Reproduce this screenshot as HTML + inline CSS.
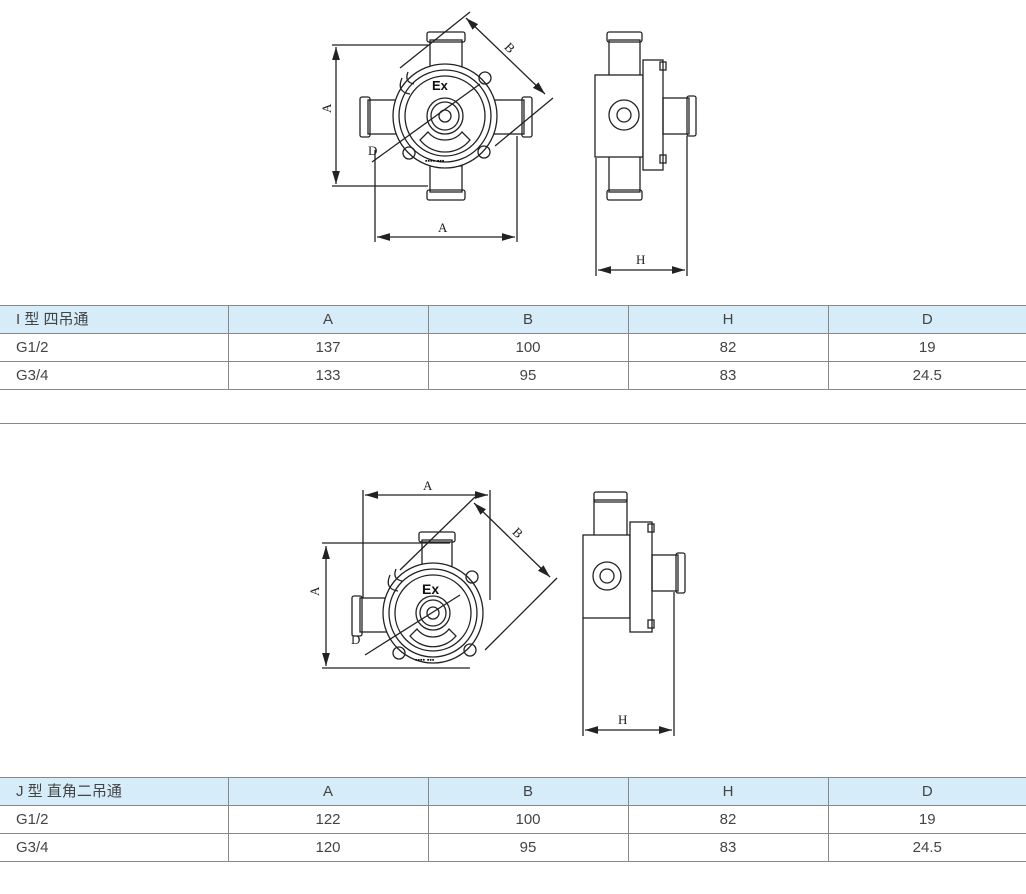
<!DOCTYPE html>
<html><head><meta charset="utf-8"><style>
body{margin:0;width:1026px;height:894px;background:#fff;position:relative;overflow:hidden;font-family:"Liberation Sans","Noto Sans CJK SC",sans-serif;}
svg{position:absolute;left:0;top:0}
table{position:absolute;left:0;width:1026px;border-collapse:collapse;table-layout:fixed;font-size:15px;color:#444}
td{height:27px;border-top:1px solid #888;border-bottom:1px solid #888;border-left:1px solid #888;text-align:center;padding:0;line-height:27px;overflow:hidden;white-space:nowrap}
td:first-child{border-left:none;text-align:left;padding-left:16px}
tr.h td{background:#d6ecf8}
.hr{position:absolute;left:0;width:1026px;height:1px;background:#888}
</style></head><body>
<svg width="1026" height="894" viewBox="0 0 1026 894" fill="none" stroke="#222" stroke-width="1.3" font-family="Liberation Serif,serif">
<defs><marker id="a" markerWidth="10" markerHeight="6" refX="10" refY="3" orient="auto-start-reverse"><path d="M0,0 L10,3 L0,6z" fill="#222" stroke="none"/></marker></defs>
<g>
<rect x="430" y="40" width="32" height="28"/><rect x="427" y="32" width="38" height="10" rx="2"/>
<rect x="430" y="166" width="32" height="26"/><rect x="427" y="190" width="38" height="10" rx="2"/>
<rect x="368" y="100" width="30" height="34"/><rect x="360" y="97" width="10" height="40" rx="2"/>
<rect x="494" y="100" width="30" height="34"/><rect x="522" y="97" width="10" height="40" rx="2"/>
<circle cx="445" cy="116" r="52" fill="#fff"/><circle cx="445" cy="116" r="46"/><circle cx="445" cy="116" r="40"/>
<circle cx="445" cy="116" r="18"/><circle cx="445" cy="116" r="14"/><circle cx="445" cy="116" r="6"/>
<path d="M420 140 A32 32 0 0 0 470 140 L462 132 A22 22 0 0 1 428 132Z"/>
<circle cx="485" cy="78" r="6"/><circle cx="484" cy="152" r="6"/><circle cx="409" cy="153" r="6"/>
<path d="M402 78 q-6 14 8 16 M408 72 q-4 10 6 12"/>
<text x="432" y="90" font-family="Liberation Sans" font-weight="bold" font-size="13" fill="#111" stroke="none">Ex</text>
<text x="425" y="163" font-family="Liberation Sans" font-weight="bold" font-size="7" fill="#111" stroke="none">▪▪▪▪ ▪▪▪</text>
<line x1="372" y1="162" x2="480" y2="84"/>
<line x1="332" y1="45" x2="428" y2="45"/><line x1="332" y1="186" x2="428" y2="186"/>
<line x1="336" y1="47" x2="336" y2="184" marker-start="url(#a)" marker-end="url(#a)"/>
<line x1="375" y1="150" x2="375" y2="242"/><line x1="517" y1="136" x2="517" y2="242"/>
<line x1="377" y1="237" x2="515" y2="237" marker-start="url(#a)" marker-end="url(#a)"/>
<line x1="400" y1="68" x2="470" y2="12"/><line x1="495" y1="146" x2="553" y2="98"/>
<line x1="466" y1="18" x2="545" y2="94" marker-start="url(#a)" marker-end="url(#a)"/>
<text x="438" y="232" font-size="13" fill="#222" stroke="none">A</text>
<text x="330" y="122" font-size="13" fill="#222" stroke="none" transform="rotate(-90 326 117)">A</text>
<text x="506" y="52" font-size="13" fill="#222" stroke="none" transform="rotate(45 510 47)">B</text>
<text x="368" y="155" font-size="13" fill="#222" stroke="none">D</text>
</g>
<g>
<rect x="609" y="40" width="31" height="36"/><rect x="607" y="32" width="35" height="10" rx="2"/>
<rect x="609" y="156" width="31" height="36"/><rect x="607" y="190" width="35" height="10" rx="2"/>
<rect x="595" y="75" width="48" height="82" fill="#fff"/>
<rect x="643" y="60" width="20" height="110" fill="#fff"/><rect x="660" y="62" width="6" height="8"/><rect x="660" y="155" width="6" height="8"/>
<rect x="663" y="98" width="26" height="36"/><rect x="687" y="96" width="9" height="40" rx="2"/>
<circle cx="624" cy="115" r="15"/><circle cx="624" cy="115" r="7"/>
<line x1="596" y1="158" x2="596" y2="276"/><line x1="687" y1="136" x2="687" y2="276"/>
<line x1="598" y1="270" x2="685" y2="270" marker-start="url(#a)" marker-end="url(#a)"/>
<text x="636" y="264" font-size="13" fill="#222" stroke="none">H</text>
</g>
<g>
<rect x="422" y="540" width="30" height="30"/><rect x="419" y="532" width="36" height="10" rx="2"/>
<rect x="360" y="598" width="30" height="34"/><rect x="352" y="596" width="10" height="40" rx="2"/>
<circle cx="433" cy="613" r="50" fill="#fff"/><circle cx="433" cy="613" r="44"/><circle cx="433" cy="613" r="38"/>
<circle cx="433" cy="613" r="17"/><circle cx="433" cy="613" r="13"/><circle cx="433" cy="613" r="6"/>
<path d="M410 636 A30 30 0 0 0 456 636 L449 629 A20 20 0 0 1 417 629Z"/>
<circle cx="472" cy="577" r="6"/><circle cx="470" cy="650" r="6"/><circle cx="399" cy="653" r="6"/>
<path d="M390 575 q-6 14 8 16 M396 569 q-4 10 6 12"/>
<text x="422" y="594" font-family="Liberation Sans" font-weight="bold" font-size="14" fill="#111" stroke="none">Ex</text>
<text x="415" y="662" font-family="Liberation Sans" font-weight="bold" font-size="7" fill="#111" stroke="none">▪▪▪▪ ▪▪▪</text>
<line x1="365" y1="655" x2="460" y2="595"/>
<line x1="322" y1="543" x2="450" y2="543"/><line x1="322" y1="668" x2="470" y2="668"/>
<line x1="326" y1="546" x2="326" y2="666" marker-start="url(#a)" marker-end="url(#a)"/>
<line x1="363" y1="490" x2="363" y2="598"/><line x1="490" y1="490" x2="490" y2="600"/>
<line x1="365" y1="495" x2="488" y2="495" marker-start="url(#a)" marker-end="url(#a)"/>
<line x1="400" y1="570" x2="475" y2="497"/><line x1="485" y1="650" x2="557" y2="578"/>
<line x1="474" y1="503" x2="550" y2="577" marker-start="url(#a)" marker-end="url(#a)"/>
<text x="423" y="490" font-size="13" fill="#222" stroke="none">A</text>
<text x="318" y="605" font-size="13" fill="#222" stroke="none" transform="rotate(-90 314 600)">A</text>
<text x="514" y="537" font-size="13" fill="#222" stroke="none" transform="rotate(45 518 532)">B</text>
<text x="351" y="644" font-size="13" fill="#222" stroke="none">D</text>
</g>
<g>
<rect x="594" y="500" width="33" height="36"/><rect x="594" y="492" width="33" height="10" rx="2"/>
<rect x="583" y="535" width="47" height="83" fill="#fff"/>
<rect x="630" y="522" width="22" height="110" fill="#fff"/><rect x="648" y="524" width="6" height="8"/><rect x="648" y="620" width="6" height="8"/>
<rect x="652" y="555" width="26" height="36"/><rect x="676" y="553" width="9" height="40" rx="2"/>
<circle cx="607" cy="576" r="14"/><circle cx="607" cy="576" r="7"/>
<line x1="583" y1="618" x2="583" y2="736"/><line x1="674" y1="592" x2="674" y2="736"/>
<line x1="585" y1="730" x2="672" y2="730" marker-start="url(#a)" marker-end="url(#a)"/>
<text x="618" y="724" font-size="13" fill="#222" stroke="none">H</text>
</g>
</svg>
<table style="top:305px">
<colgroup><col style="width:228px"><col style="width:200px"><col style="width:200px"><col style="width:200px"><col style="width:198px"></colgroup>
<tr class="h"><td>I 型 四吊通</td><td>A</td><td>B</td><td>H</td><td>D</td></tr>
<tr><td>G1/2</td><td>137</td><td>100</td><td>82</td><td>19</td></tr>
<tr><td>G3/4</td><td>133</td><td>95</td><td>83</td><td>24.5</td></tr>
</table>
<div class="hr" style="top:423px"></div>
<table style="top:777px">
<colgroup><col style="width:228px"><col style="width:200px"><col style="width:200px"><col style="width:200px"><col style="width:198px"></colgroup>
<tr class="h"><td>J 型 直角二吊通</td><td>A</td><td>B</td><td>H</td><td>D</td></tr>
<tr><td>G1/2</td><td>122</td><td>100</td><td>82</td><td>19</td></tr>
<tr><td>G3/4</td><td>120</td><td>95</td><td>83</td><td>24.5</td></tr>
</table>
</body></html>
